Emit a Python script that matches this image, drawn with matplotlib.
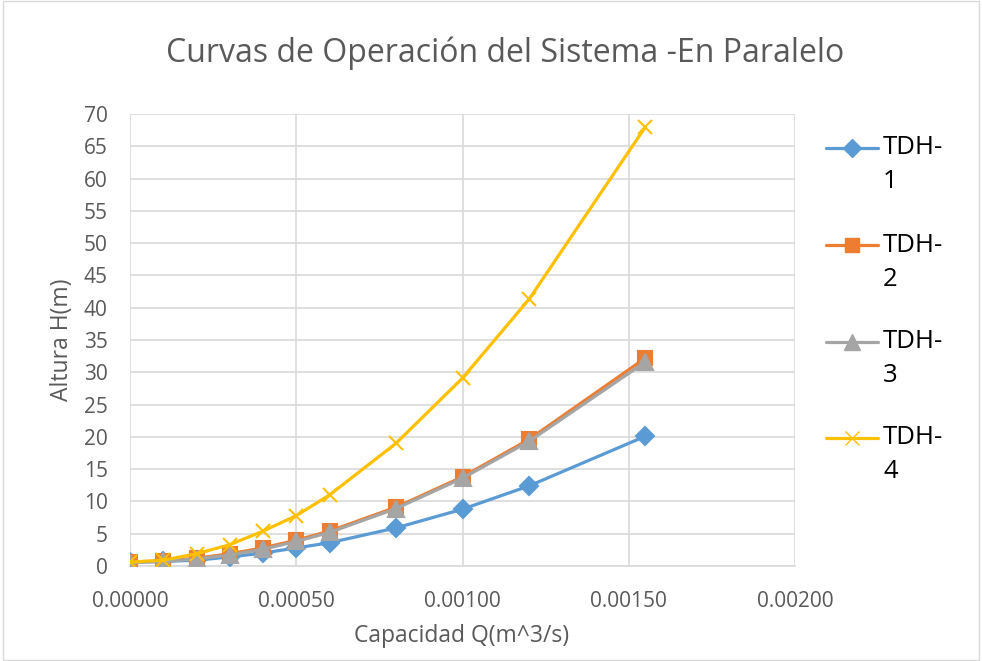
import matplotlib
matplotlib.use("Agg")
import matplotlib.pyplot as plt
from matplotlib.lines import Line2D
from matplotlib.patches import Rectangle
from matplotlib.ticker import MultipleLocator, FormatStrFormatter

plt.rcParams["font.family"] = ["Open Sans", "DejaVu Sans"]

# Caudal (m^3/s) y alturas
caudal = [0.0, 0.0001, 0.0002, 0.0003, 0.0004, 0.0005, 0.0006,
          0.0008, 0.0010, 0.0012, 0.00155]
tdh_1 = [0.6, 0.7, 0.9, 1.4, 2.0, 2.8, 3.6, 5.9, 8.8, 12.4, 20.1]
tdh_2 = [0.6, 0.8, 1.2, 1.9, 2.8, 4.0, 5.4, 9.1, 13.8, 19.6, 32.2]
tdh_3 = [0.5, 0.7, 1.1, 1.7, 2.6, 3.8, 5.2, 8.9, 13.6, 19.3, 31.6]
tdh_4 = [0.6, 0.9, 1.9, 3.3, 5.4, 7.8, 11.0, 19.0, 29.1, 41.3, 68.0]

series = [
    ("TDH-1", tdh_1, "#5B9BD5", "D", 9),
    ("TDH-2", tdh_2, "#ED7D31", "s", 10.5),
    ("TDH-3", tdh_3, "#A5A5A5", "^", 11),
    ("TDH-4", tdh_4, "#FFC000", "x", 10),
]

W, H = 982, 661
fig = plt.figure(figsize=(W / 100, H / 100), dpi=100)
ax = fig.add_axes([130 / W, (H - 566) / H, 665 / W, 452 / H])

for name, vals, col, mk, ms in series:
    ax.plot(caudal, vals, color=col, lw=2.3, marker=mk, ms=ms,
            mec=col, mfc=col, mew=1.5, solid_capstyle="round", zorder=3)

ax.set_xlim(0, 0.002)
ax.set_ylim(0, 70)
ax.xaxis.set_major_locator(MultipleLocator(0.0005))
ax.yaxis.set_major_locator(MultipleLocator(5))
ax.xaxis.set_major_formatter(FormatStrFormatter("%.5f"))
ax.grid(True, color="#D9D9D9", lw=1.2)
ax.set_axisbelow(True)
for s in ["top", "right", "left"]:
    ax.spines[s].set_visible(False)
ax.spines["bottom"].set_color("#D9D9D9")
ax.spines["bottom"].set_linewidth(1.2)
ax.tick_params(length=0, labelsize=15, labelcolor="#595959")
ax.tick_params(axis="y", pad=16)
ax.tick_params(axis="x", pad=18)

fig.text(505 / W, 1 - 53 / H, "Curvas de Operación del Sistema -En Paralelo",
         ha="center", va="center", fontsize=23, color="#595959")
fig.text(462 / W, 1 - 636 / H, "Capacidad Q(m^3/s)", ha="center",
         va="center", fontsize=16.5, color="#595959")
fig.text(62 / W, 1 - 340 / H, "Altura H(m)", ha="center", va="center",
         rotation=90, fontsize=16.5, color="#595959")

# leyenda a la derecha
leg_y = [148, 245, 342, 438]
for (name, vals, col, mk, ms), y in zip(series, leg_y):
    yy = 1 - y / H
    fig.add_artist(Line2D([826 / W, 852 / W, 878 / W], [yy, yy, yy],
                          color=col, lw=2.3, marker=mk, ms=ms, mec=col,
                          mfc=col, markevery=[1], solid_capstyle="round"))
    pre, num = name.split("-")
    fig.text(883 / W, yy, pre + "-", ha="left", va="center", fontsize=18.5,
             color="black")
    fig.text(883 / W, 1 - (y + 34) / H, num, ha="left", va="center",
             fontsize=18.5, color="black")

fig.add_artist(Rectangle((0.003, 0.002), 0.994, 0.996, transform=fig.transFigure,
                         fill=False, edgecolor="#D9D9D9", lw=1))

fig.savefig("out.png", dpi=100)
